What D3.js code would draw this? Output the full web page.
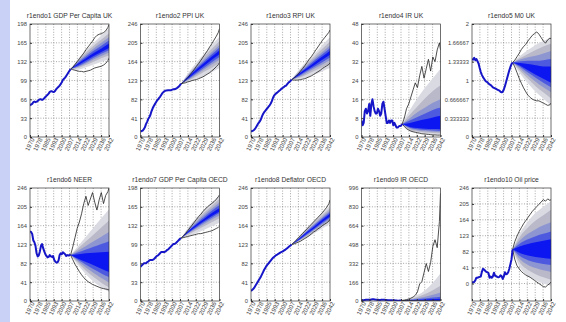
<!DOCTYPE html>
<html>
<head>
<meta charset="utf-8">
<script src="https://cdn.jsdelivr.net/npm/d3@7"></script>
<style>
  body { margin: 0; background: #fff; }
  svg { display: block; font-family: "Liberation Sans", Arial, sans-serif; }
</style>
</head>
<body>
<svg id="chart" width="566" height="322"></svg>
<script>
const titles = [
  'r1endo1 GDP Per Capita UK', 'r1endo2 PPI UK', 'r1endo3 RPI UK', 'r1endo4 IR UK', 'r1endo5 M0 UK',
  'r1endo6 NEER', 'r1endo7 GDP Per Capita OECD', 'r1endo8 Deflator OECD', 'r1endo9 IR OECD', 'r1endo10 Oil price'
];
const yTops = [198, 246, 246, 48, 2, 246, 198, 246, 996, 246];
const yBottoms = [0, 0, 0, 0, 0, 0, 0, 0, 0, -45];
const yTickSteps = [33, 41, 41, 8, 1 / 3, 41, 33, 41, 166, 41];
const xTickLabels = ['1970', '1978', '1985', '1993', '2000', '2007', '2014', '2022', '2029', '2036', '2042'];

const histYears = d3.range(1970, 2008);
const fanYears = [2007, 2014, 2021, 2028, 2035, 2042];
const pathYears = [2007, 2009, 2011, 2013, 2015, 2017, 2019, 2021, 2023, 2025, 2027, 2029, 2031, 2033, 2035, 2037, 2039, 2041, 2042];

// history, one row per panel
const history = [
  [55, 57, 58, 61, 62, 61, 62, 63, 65, 66, 66, 65, 66, 68, 70, 72, 74, 76, 79, 80, 80, 79, 79, 81, 84, 86, 88, 90, 93, 96, 100, 102, 104, 107, 110, 113, 116, 119],
  [12, 13, 14, 17, 21, 28, 33, 39, 43, 48, 56, 62, 67, 71, 75, 79, 82, 85, 88, 92, 96, 98, 100, 101, 101, 102, 102, 102, 102, 103, 104, 104, 105, 106, 108, 110, 113, 116],
  [12, 13, 14, 16, 19, 23, 27, 31, 34, 38, 45, 50, 54, 57, 60, 63, 66, 69, 73, 78, 85, 90, 93, 95, 97, 99, 101, 103, 106, 107, 109, 111, 112, 115, 118, 120, 122, 125],
  [7, 5, 6, 11, 12, 10, 11, 14, 9, 14, 16, 13, 11, 10, 10, 12, 11, 9, 10, 14, 15, 12, 9, 6, 6, 7, 6, 7, 7, 5, 6, 5, 4, 4, 4.5, 4.7, 4.8, 5.5],
  [1.38, 1.37, 1.40, 1.36, 1.38, 1.34, 1.30, 1.22, 1.15, 1.10, 1.06, 1.03, 1.00, 0.98, 0.97, 0.95, 0.93, 0.92, 0.90, 0.88, 0.87, 0.86, 0.85, 0.84, 0.83, 0.82, 0.80, 0.79, 0.80, 0.84, 0.90, 0.97, 1.04, 1.11, 1.18, 1.24, 1.29, 1.32],
  [152, 150, 146, 132, 128, 120, 104, 97, 99, 108, 120, 124, 115, 108, 102, 98, 95, 96, 100, 97, 96, 98, 90, 86, 84, 84, 88, 100, 104, 102, 106, 104, 102, 98, 100, 99, 100, 100],
  [60, 62, 64, 66, 66, 66, 68, 69, 71, 72, 72, 72, 73, 75, 77, 79, 80, 82, 84, 86, 86, 86, 86, 87, 89, 90, 92, 94, 96, 98, 100, 100, 101, 103, 105, 107, 109, 110],
  [22, 24, 26, 29, 33, 37, 41, 45, 49, 53, 58, 63, 68, 72, 76, 79, 82, 85, 88, 91, 94, 96, 98, 100, 101, 103, 104, 106, 107, 108, 110, 111, 113, 115, 117, 119, 121, 123],
  [8, 7, 7, 9, 11, 10, 10, 10, 11, 13, 15, 16, 14, 12, 12, 11, 9, 9, 10, 11, 11, 10, 9, 8, 7, 7, 6, 6, 6, 5, 6, 5, 4, 3, 3, 4, 4, 5],
  [3, 3, 4, 8, 15, 15, 16, 17, 18, 30, 38, 36, 33, 30, 29, 27, 15, 18, 15, 18, 28, 20, 19, 17, 16, 17, 21, 19, 12, 18, 29, 24, 25, 29, 38, 50, 62, 88]
];

// forecast quantiles per panel, rows low to high (band i lies between row i and row 9-i)
const fanGdpUk = [
  [119, 118, 122, 127, 132, 136], [119, 121, 126, 132, 138, 143], [119, 123, 129, 136, 142, 148], [119, 124, 131, 139, 146, 152], [119, 126, 134, 142, 149, 156],
  [119, 129, 138, 147, 155, 164], [119, 131, 141, 151, 160, 169], [119, 133, 144, 155, 165, 175], [119, 135, 148, 160, 171, 182], [119, 137, 152, 165, 178, 190]
];
const fanPpiUk = [
  [116, 120, 126, 133, 141, 150], [116, 123, 132, 142, 151, 161], [116, 125, 136, 147, 158, 168], [116, 127, 139, 151, 163, 174], [116, 129, 142, 155, 168, 180],
  [116, 132, 147, 161, 175, 189], [116, 134, 150, 165, 180, 195], [116, 136, 153, 169, 185, 201], [116, 138, 157, 175, 192, 209], [116, 141, 162, 181, 200, 218]
];
const fanRpiUk = [
  [125, 126, 130, 136, 143, 150], [125, 129, 136, 144, 152, 160], [125, 131, 140, 149, 158, 167], [125, 133, 143, 153, 163, 173], [125, 135, 146, 157, 168, 179],
  [125, 138, 150, 163, 175, 188], [125, 140, 153, 167, 180, 194], [125, 142, 157, 171, 185, 200], [125, 144, 161, 176, 192, 208], [125, 147, 166, 182, 200, 217]
];
const fanIrUk = [
  [5.5, 2.5, 1.8, 1.4, 1.2, 1.0], [5.5, 3.0, 2.3, 1.9, 1.7, 1.5], [5.5, 3.5, 2.8, 2.4, 2.2, 2.0], [5.5, 3.9, 3.3, 3.0, 2.8, 2.6], [5.5, 4.3, 3.8, 3.5, 3.4, 3.3],
  [5.5, 6.0, 6.8, 7.5, 8.3, 9.0], [5.5, 7.0, 8.5, 10.0, 11.5, 12.5], [5.5, 8.0, 10.5, 12.5, 14.5, 16.0], [5.5, 9.5, 13.0, 16.5, 19.5, 22.0], [5.5, 11.5, 16.5, 21.0, 25.0, 29.0]
];
const fanM0Uk = [
  [1.32, 1.12, 0.95, 0.80, 0.68, 0.56], [1.32, 1.17, 1.03, 0.90, 0.79, 0.68], [1.32, 1.21, 1.09, 0.98, 0.88, 0.79], [1.32, 1.24, 1.14, 1.05, 0.96, 0.88], [1.32, 1.26, 1.18, 1.10, 1.03, 0.96],
  [1.32, 1.31, 1.29, 1.27, 1.25, 1.25], [1.32, 1.34, 1.35, 1.35, 1.36, 1.38], [1.32, 1.37, 1.41, 1.44, 1.48, 1.52], [1.32, 1.40, 1.47, 1.54, 1.60, 1.65], [1.32, 1.44, 1.54, 1.63, 1.70, 1.76]
];
const fanNeer = [
  [100, 78, 58, 42, 30, 20], [100, 82, 66, 52, 40, 30], [100, 86, 73, 61, 50, 40], [100, 89, 79, 69, 60, 52], [100, 92, 85, 78, 70, 63],
  [100, 102, 104, 105, 106, 107], [100, 106, 112, 118, 124, 130], [100, 110, 120, 130, 140, 150], [100, 115, 130, 145, 160, 175], [100, 120, 140, 160, 180, 200]
];
const fanGdpOecd = [
  [110, 114, 119, 125, 131, 137], [110, 117, 124, 131, 138, 145], [110, 119, 127, 135, 143, 150], [110, 120, 129, 138, 146, 154], [110, 121, 131, 140, 149, 157],
  [110, 123, 134, 144, 154, 163], [110, 124, 136, 147, 158, 168], [110, 126, 139, 151, 162, 173], [110, 128, 142, 155, 167, 179], [110, 130, 146, 160, 173, 185]
];
const fanDeflOecd = [
  [123, 129, 138, 148, 158, 168], [123, 131, 141, 152, 163, 174], [123, 132, 143, 155, 166, 178], [123, 133, 145, 157, 169, 181], [123, 134, 147, 159, 172, 184],
  [123, 136, 150, 163, 177, 190], [123, 137, 152, 166, 180, 193], [123, 138, 154, 168, 183, 197], [123, 140, 156, 172, 187, 202], [123, 142, 159, 176, 192, 208]
];
const fanIrOecd = [
  [5, 2, 1.5, 1.2, 1.0, 0.8], [5, 3, 2.5, 2.0, 1.8, 1.6], [5, 3.5, 3.0, 2.8, 2.6, 2.5], [5, 4, 3.8, 3.6, 3.5, 3.4], [5, 4.5, 4.5, 4.5, 4.5, 4.5],
  [5, 8, 11, 14, 17, 20], [5, 10, 16, 22, 30, 38], [5, 13, 24, 38, 55, 75], [5, 17, 36, 62, 95, 135], [5, 22, 52, 95, 160, 245]
];
const fanOil = [
  [88, 40, 20, 8, 0, -6], [88, 52, 35, 24, 16, 10], [88, 62, 48, 40, 34, 30], [88, 70, 60, 54, 50, 48], [88, 78, 72, 68, 66, 64],
  [88, 96, 102, 106, 110, 114], [88, 104, 114, 122, 128, 134], [88, 112, 128, 140, 150, 158], [88, 122, 144, 162, 176, 190], [88, 132, 160, 182, 198, 212]
];
const fans = [fanGdpUk, fanPpiUk, fanRpiUk, fanIrUk, fanM0Uk, fanNeer, fanGdpOecd, fanDeflOecd, fanIrOecd, fanOil];

// extreme simulated paths (black lines)
const upperPaths = [
  [119, 122, 127, 132, 137, 142, 147, 153, 158, 163, 168, 174, 178, 180, 181, 183, 186, 192, 197],
  [116, 119, 124, 129, 135, 141, 147, 154, 160, 167, 174, 181, 188, 196, 203, 211, 219, 228, 236],
  [125, 128, 132, 137, 143, 149, 155, 162, 169, 175, 182, 189, 196, 203, 210, 216, 222, 228, 233],
  [5.5, 8, 12, 14, 17, 20, 23, 21, 26, 30, 25, 29, 33, 28, 34, 32, 37, 40, 37],
  [1.32, 1.36, 1.42, 1.48, 1.55, 1.60, 1.64, 1.70, 1.75, 1.80, 1.83, 1.86, 1.82, 1.76, 1.70, 1.66, 1.72, 1.75, 1.74],
  [100, 118, 138, 158, 172, 190, 212, 228, 208, 222, 236, 215, 198, 220, 236, 212, 230, 238, 246],
  [110, 114, 118, 123, 128, 133, 138, 143, 148, 152, 157, 161, 165, 168, 171, 174, 178, 183, 186],
  [123, 127, 132, 137, 142, 147, 152, 157, 162, 167, 172, 177, 182, 187, 192, 198, 204, 212, 220],
  [5, 8, 12, 18, 25, 35, 50, 80, 150, 170, 250, 330, 260, 340, 480, 540, 470, 700, 950],
  [88, 108, 122, 134, 144, 154, 162, 170, 178, 186, 192, 198, 204, 210, 216, 212, 218, 214, 216]
];
const lowerPaths = [
  [119, 118, 117, 116, 115, 115, 114, 115, 116, 117, 119, 121, 122, 123, 124, 126, 129, 134, 138],
  [116, 117, 118, 120, 121, 123, 124, 125, 127, 129, 131, 134, 137, 140, 144, 148, 153, 158, 162],
  [125, 124, 124, 124, 125, 126, 127, 129, 131, 133, 136, 139, 142, 145, 149, 152, 155, 158, 161],
  [5.5, 4.5, 3.5, 3, 2.5, 2.2, 2, 1.8, 1.6, 1.4, 1.3, 1.2, 1.1, 1.0, 0.9, 0.9, 0.8, 0.8, 0.8],
  [1.32, 1.24, 1.14, 1.04, 0.95, 0.87, 0.80, 0.74, 0.70, 0.67, 0.65, 0.64, 0.64, 0.62, 0.60, 0.58, 0.56, 0.57, 0.60],
  [100, 90, 80, 72, 64, 57, 51, 46, 42, 39, 36, 34, 32, 30, 28, 27, 26, 25, 24],
  [110, 111, 112, 113, 114, 115, 116, 117, 118, 118, 119, 120, 121, 122, 123, 125, 127, 129, 131],
  [123, 124, 126, 128, 130, 133, 136, 139, 142, 146, 150, 153, 157, 160, 164, 167, 170, 174, 178],
  [5, 4, 3.5, 3, 2.5, 2, 1.8, 1.6, 1.4, 1.2, 1.1, 1, 0.9, 0.8, 0.8, 0.7, 0.7, 0.6, 0.6],
  [88, 62, 46, 38, 31, 26, 22, 19, 16, 12, 8, 4, 0, -4, -8, -9, -4, 0, 4]
];

const bandColors = ['#dadae2', '#b9b9c9', '#8e96d2', '#4d5ae0', '#0c16f0'];

const svg = d3.select('#chart');
svg.append('rect').attr('width', 566).attr('height', 322).attr('fill', '#fff');
svg.append('rect').attr('width', 10).attr('height', 322).attr('fill', '#c9d2f6');

const plotW = 79;
const rowTops = [24, 188];
const plotH = 113;
const fmt = d3.format('.6~g');
const tickFont = 5.8;

titles.forEach((title, p) => {
  const col = p % 5, row = Math.floor(p / 5);
  const left = 30 + col * 110.5;
  const top = rowTops[row];

  const x = d3.scaleLinear().domain([1970, 2042]).range([0, plotW]);
  const y = d3.scaleLinear().domain([yBottoms[p], yTops[p]]).range([plotH, 0]);
  const xTicks = xTickLabels.map((d, i) => 1970 + i * 7.2);
  const yTicks = d3.range(7).map(i => i * yTickSteps[p]);

  const g = svg.append('g').attr('transform', `translate(${left},${top})`);

  g.append('clipPath').attr('id', 'clip' + p)
    .append('rect').attr('width', plotW).attr('height', plotH);

  // grid
  g.append('g').selectAll('line').data(xTicks.slice(1, -1)).join('line')
    .attr('x1', d => x(d)).attr('x2', d => x(d)).attr('y1', 0).attr('y2', plotH)
    .attr('stroke', '#6c6c6c').attr('stroke-width', 0.6).attr('stroke-dasharray', '1,1.6');
  g.append('g').selectAll('line').data(yTicks.filter(v => y(v) > 0.5 && y(v) < plotH - 0.5)).join('line')
    .attr('x1', 0).attr('x2', plotW).attr('y1', d => y(d)).attr('y2', d => y(d))
    .attr('stroke', '#6c6c6c').attr('stroke-width', 0.6).attr('stroke-dasharray', '1,1.6');

  const data = g.append('g').attr('clip-path', `url(#clip${p})`);
  const fan = fans[p];
  bandColors.forEach((c, b) => {
    const area = d3.area()
      .x((d, i) => x(fanYears[i]))
      .y0((d, i) => y(fan[b][i]))
      .y1((d, i) => y(fan[9 - b][i]))
      .curve(d3.curveMonotoneX);
    data.append('path').attr('d', area(fanYears)).attr('fill', c);
  });

  const pathLine = d3.line().x((d, i) => x(pathYears[i])).y(d => y(d));
  [upperPaths[p], lowerPaths[p]].forEach(vals => {
    data.append('path').attr('d', pathLine(vals))
      .attr('fill', 'none').attr('stroke', '#222').attr('stroke-width', 0.8);
  });

  const histLine = d3.line().x((d, i) => x(histYears[i])).y(d => y(d));
  data.append('path').attr('d', histLine(history[p]))
    .attr('fill', 'none').attr('stroke', '#1616c8').attr('stroke-width', 2).attr('stroke-linejoin', 'round');

  // box
  g.append('rect').attr('width', plotW).attr('height', plotH)
    .attr('fill', 'none').attr('stroke', '#333').attr('stroke-width', 0.7);

  // y axis
  const yAxis = g.append('g').call(d3.axisLeft(y).tickValues(yTicks).tickSize(-2).tickPadding(3).tickFormat(fmt));
  yAxis.select('.domain').remove();
  yAxis.selectAll('text').attr('font-size', tickFont).attr('fill', '#444').attr('font-family', 'Liberation Sans, Arial, sans-serif');
  yAxis.selectAll('line').attr('stroke', '#333');

  // x axis
  const xAxis = g.append('g').attr('transform', `translate(0,${plotH})`)
    .call(d3.axisBottom(x).tickValues(xTicks).tickSize(-2).tickPadding(0).tickFormat((d, i) => xTickLabels[i]));
  xAxis.select('.domain').remove();
  xAxis.selectAll('line').attr('stroke', '#333');
  xAxis.selectAll('text')
    .attr('font-size', tickFont + 0.4).attr('fill', '#444').attr('font-family', 'Liberation Sans, Arial, sans-serif')
    .attr('text-anchor', 'end').attr('dy', '0.3em').attr('y', 3).attr('x', 0)
    .attr('transform', 'rotate(-64)');

  g.append('text').attr('x', plotW / 2).attr('y', -6).attr('text-anchor', 'middle')
    .attr('font-size', 6.7).attr('fill', '#333').text(title);
});
</script>
</body>
</html>
